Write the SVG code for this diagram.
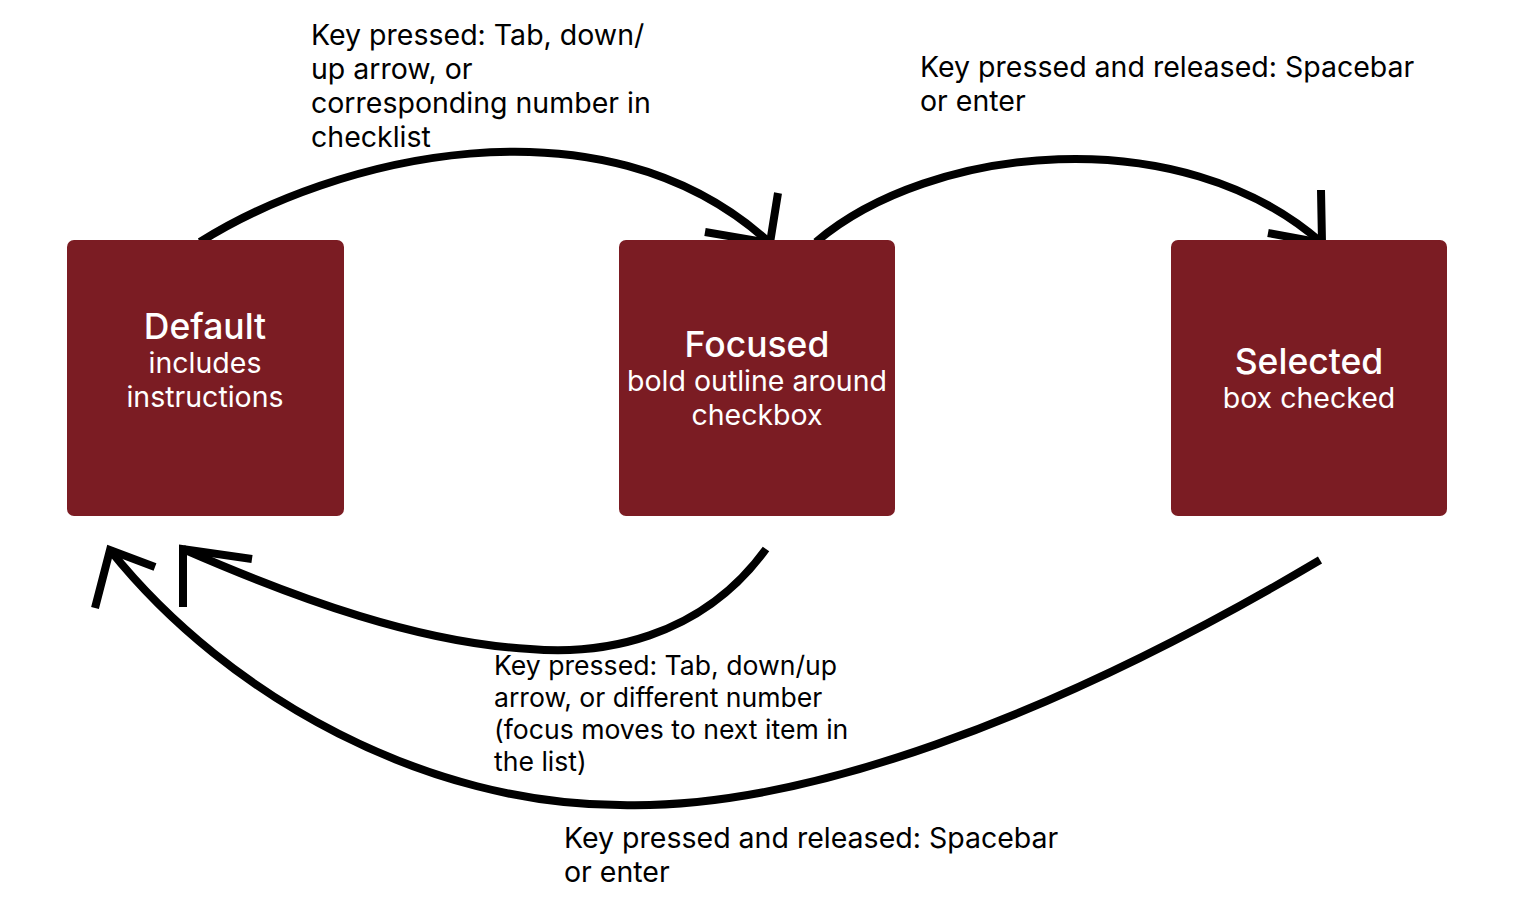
<svg xmlns="http://www.w3.org/2000/svg" width="1521" height="914" viewBox="0 0 1521 914">
<style>
.box{fill:#7B1C23}
.t{font-family:Inter,"Liberation Sans",sans-serif;fill:#fff;text-anchor:middle}
.h{font-size:35.5px;font-weight:500}
.s{font-size:28.5px}
.lbl{font-family:Inter,"Liberation Sans",sans-serif;font-size:28.5px;fill:#000}
.m{font-size:26.6px}
.c{fill:none;stroke:#000;stroke-width:8;stroke-linecap:butt;stroke-linejoin:miter}
</style>
<rect width="1521" height="914" fill="#fff"/>
<g id="connectors">
<path class="c" d="M200,242 C330,160 600,88 770,243"/>
<path class="c" d="M705,232 L770,243 L778,193"/>
<path class="c" d="M816,242 C930,145 1180,118 1322,243"/>
<path class="c" d="M1268,233 L1322,243 L1321,190"/>
<path class="c" d="M766,549 C700,640 600,655 530,649 C420,643 300,600 183,549"/>
<path class="c" d="M252,559 L183,549 L183,607"/>
<path class="c" d="M1320,560 C1050,720 800,810 620,805 C430,805 230,700 110,550"/>
<path class="c" d="M95,608 L110,550 L155,567"/>
</g>
<g id="default">
<rect class="box" x="67" y="240" width="277" height="276" rx="7"/>
<text class="t h" x="205" y="339">Default</text>
<text class="t s" x="205" y="373">includes</text>
<text class="t s" x="205" y="407">instructions</text>
</g>
<g id="focused">
<rect class="box" x="619" y="240" width="276" height="276" rx="7"/>
<text class="t h" x="757" y="357">Focused</text>
<text class="t s" x="757" y="391">bold outline around</text>
<text class="t s" x="757" y="425">checkbox</text>
</g>
<g id="selected">
<rect class="box" x="1171" y="240" width="276" height="276" rx="7"/>
<text class="t h" x="1309" y="374">Selected</text>
<text class="t s" x="1309" y="408">box checked</text>
</g>
<g id="labels">
<text class="lbl" x="311" y="45">Key pressed: Tab, down/</text>
<text class="lbl" x="311" y="79">up arrow, or</text>
<text class="lbl" x="311" y="113">corresponding number in</text>
<text class="lbl" x="311" y="147">checklist</text>
<text class="lbl" x="920" y="77">Key pressed and released: Spacebar</text>
<text class="lbl" x="920" y="111">or enter</text>
<text class="lbl m" x="494" y="675">Key pressed: Tab, down/up</text>
<text class="lbl m" x="494" y="707">arrow, or different number</text>
<text class="lbl m" x="494" y="739">(focus moves to next item in</text>
<text class="lbl m" x="494" y="771">the list)</text>
<text class="lbl" x="564" y="848">Key pressed and released: Spacebar</text>
<text class="lbl" x="564" y="882">or enter</text>
</g>
</svg>
